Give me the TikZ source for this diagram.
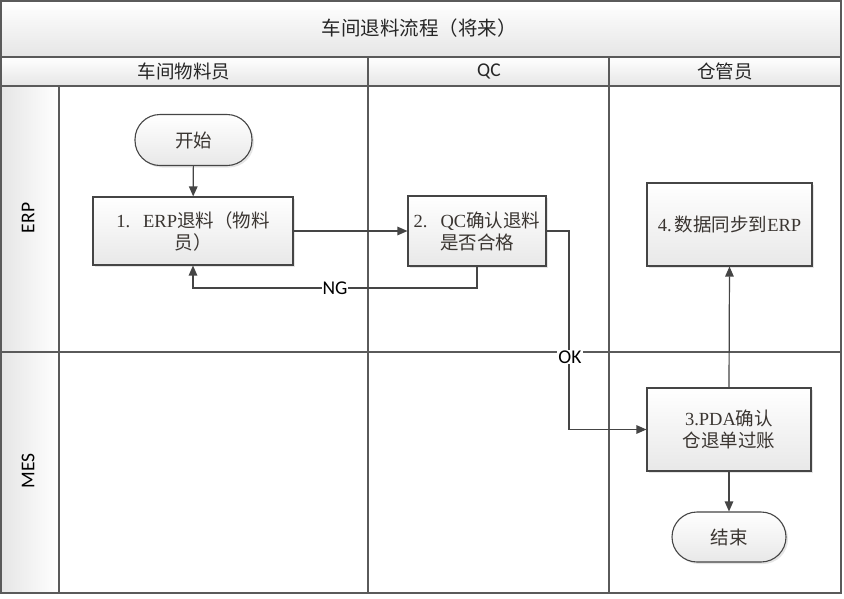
\documentclass[tikz,border=0pt]{standalone}
\usepackage{fontspec}
\setmainfont{Liberation Serif}
\newfontfamily\cjk{Noto Sans CJK SC}
\newfontfamily\lab{Carlito}
\usetikzlibrary{arrows.meta,shadows}
\definecolor{txt}{HTML}{3A3531}
\definecolor{ln}{HTML}{454545}
\definecolor{frame}{HTML}{5A5A5A}
\newcommand\zh[1]{{\cjk #1}}
\tikzset{
  lanefill/.style={top color=white,bottom color=black!10,draw=frame,line width=1.2pt},
  stepbox/.style={draw=ln,line width=1.1pt,top color=white,bottom color=black!9,
    text=txt,align=center,inner sep=2pt,font=\fontsize{18.5}{22}\selectfont,
    drop shadow={opacity=0.2,shadow xshift=2pt,shadow yshift=-2pt}},
  termbox/.style={stepbox,rounded corners=25pt},
  conn/.style={draw=ln,line width=1.2pt,-{Triangle[length=10pt,width=8.5pt]}},
  lbl/.style={font=\lab\fontsize{19.5}{22}\selectfont,text=black,fill=white,inner sep=1pt},
  hdr/.style={font=\cjk\fontsize{18.5}{22}\selectfont,text=black!85},
  lanelbl/.style={font=\lab\fontsize{19.5}{22}\selectfont,text=black,rotate=90}
}
\begin{document}
\begin{tikzpicture}[x=1pt,y=-1pt]
\useasboundingbox (0,0) rectangle (844,598);
\fill[white] (0,0) rectangle (844,598);
% title band and header row
\path[lanefill] (1,1) rectangle (841,57);
\path[lanefill] (1,57) rectangle (841,86);
% left lane label column
\path[left color=black!10,right color=white,draw=frame,line width=1.2pt] (1,86) rectangle (59,593);
% dividers
\draw[frame,line width=1.2pt] (368,57) -- (368,593);
\draw[frame,line width=1.2pt] (609,57) -- (609,593);
\draw[frame,line width=1.2pt] (1,352) -- (841,352);
\draw[frame,line width=1.2pt] (1,1) rectangle (841,593);
% texts of title and headers
\node[hdr,font=\cjk\fontsize{19.5}{22}\selectfont] (title) at (419,28) {车间退料流程（将来）};
\node[hdr] (h1) at (184,71) {车间物料员};
\node[hdr,font=\lab\fontsize{19.5}{22}\selectfont] (h2) at (489,71) {QC};
\node[hdr] (h3) at (725,71) {仓管员};
\node[lanelbl] (erp) at (28,218) {ERP};
\node[lanelbl] (mes) at (28,471) {MES};
% nodes
\node[termbox,minimum width=117pt,minimum height=51pt] (start) at (193.5,140) {\zh{开始}};
\node[stepbox,minimum width=200pt,minimum height=68pt] (b1) at (193,231)
  {1.\hspace{0.7em}ERP\zh{退料（物料}\\\zh{员）}};
\node[stepbox,minimum width=138pt,minimum height=70pt] (b2) at (477,231)
  {2.\hspace{0.7em}QC\zh{确认退料}\\\zh{是否合格}};
\node[stepbox,minimum width=165pt,minimum height=83pt] (b4) at (729.5,224.5)
  {4.\,\zh{数据同步到}ERP};
\node[stepbox,minimum width=164pt,minimum height=83pt] (b3) at (729,429.5)
  {3.PDA\zh{确认}\\\zh{仓退单过账}};
\node[termbox,minimum width=114pt,minimum height=50pt] (end) at (729,537) {\zh{结束}};
% connectors
\coordinate (ngy) at (0,288);
\coordinate (okx) at (569,0);
\draw[conn] (start) -- (b1);
\draw[conn] (b1.east) -- (b2.west);
\draw[conn] (b2.south) -- (b2.south |- ngy) -- (b1.south |- ngy) -- (b1.south);
\draw[conn] (b2.east) -- (b2.east -| okx) -- (okx |- b3.west) -- (b3.west);
\draw[conn] (b3.north) -- (b4.south);
\draw[conn] (b3.south) -- (end.north);
\node[lbl] (ng) at (335,288) {NG};
\node[lbl] (ok) at (570,357) {OK};
\end{tikzpicture}
\end{document}
